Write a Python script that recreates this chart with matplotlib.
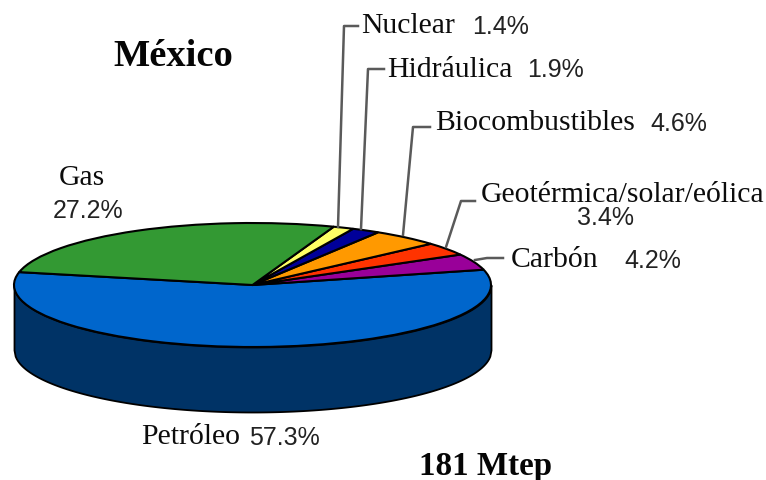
import numpy as np
import matplotlib
matplotlib.use("Agg")
import matplotlib.pyplot as plt

# Primary energy shares, in drawing order starting from the left edge of the disc
categories = ["Petróleo", "Carbón", "Geotérmica/solar/eólica", "Biocombustibles",
              "Hidráulica", "Nuclear", "Gas"]
shares = [57.3, 4.2, 3.4, 4.6, 1.9, 1.4, 27.2]
slice_colors = ["#0066CC", "#990099", "#FF3300", "#FF9900", "#000099", "#FFFF66", "#339933"]

WIDTH, HEIGHT = 766, 480
CX, CY = 252.5, 285
RX, RY = 238.5, 62
DEPTH = 65
SERIF = "Liberation Serif"
SANS = "Liberation Sans"
TEXT_DARK = "#0c0c0c"
NUM_DARK = "#222222"

fig = plt.figure(figsize=(WIDTH / 100, HEIGHT / 100), dpi=100, facecolor="white")

# The pie axes is stretched so the unit circle becomes a flat ellipse
pie_ax = fig.add_axes([(CX - RX) / WIDTH, 1 - (CY + RY) / HEIGHT, 2 * RX / WIDTH, 2 * RY / HEIGHT])
wedges, _ = pie_ax.pie(shares, colors=slice_colors, startangle=168, radius=1,
                       wedgeprops={"edgecolor": "black", "linewidth": 1.5, "clip_on": False})
pie_ax.set_aspect("auto")
pie_ax.set_xlim(-1, 1)
pie_ax.set_ylim(-1, 1)
pie_ax.axis("off")

# Side wall of the disc below the front rim
x = np.linspace(-1, 1, 400)
rim = -np.sqrt(1 - x ** 2)
pie_ax.fill_between(x, rim, rim - DEPTH / RY, facecolor="#003366", edgecolor="black",
                    linewidth=1.3, clip_on=False, zorder=0.5)

# Overlay in pixel coordinates for labels and leader lines
ax = fig.add_axes([0, 0, 1, 1], facecolor="none")
ax.set_xlim(0, WIDTH)
ax.set_ylim(HEIGHT, 0)
ax.axis("off")

leaders = [
    ([338, 344, 358], [227, 26, 26]),
    ([361, 368, 384], [229, 69, 69]),
    ([403, 413, 430], [235, 127, 127]),
    ([446, 461, 475], [247, 201, 201]),
    ([475, 487, 503], [260, 258, 258]),
]
for lx, ly in leaders:
    ax.plot(lx, ly, color="#5a5a5a", lw=1.8, solid_joinstyle="round")


def name(x, y, s):
    ax.text(x, y, s, family=SERIF, fontsize=21.4, color=TEXT_DARK, va="baseline", ha="left")


def pct(x, y, value, ha="left"):
    ax.text(x, y, f"{value}%", family=SANS, fontsize=18, color=NUM_DARK, va="baseline", ha=ha)


share = dict(zip(categories, shares))

name(361, 33, "Nuclear")
pct(472, 34, share["Nuclear"])
name(387, 77, "Hidráulica")
pct(527, 77, share["Hidráulica"])
name(435, 130, "Biocombustibles")
pct(650, 131, share["Biocombustibles"])
name(481, 202, "Geotérmica/solar/eólica")
pct(606, 225, share["Geotérmica/solar/eólica"], ha="center")
name(511, 267, "Carbón")
pct(624, 268, share["Carbón"])
name(59, 185, "Gas")
pct(53, 218, share["Gas"])
name(141, 444, "Petróleo")
pct(249, 445, share["Petróleo"])

ax.text(113, 66, "México", family=SERIF, fontsize=27.7, fontweight="bold", color="#050505", va="baseline")
ax.text(419, 475, "181 Mtep", family=SERIF, fontsize=23.8, fontweight="bold", color="#050505", va="baseline")

fig.savefig("out.png", dpi=100, facecolor="white")
